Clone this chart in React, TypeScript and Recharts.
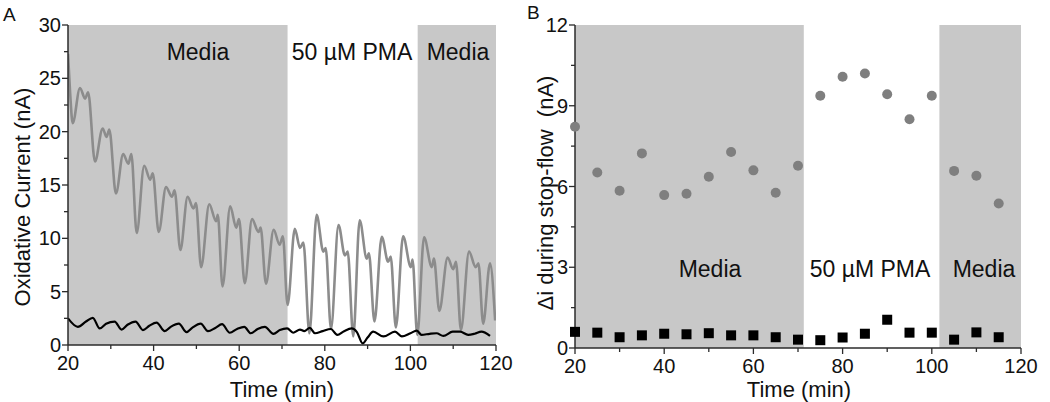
import React from "react"
import {
  ComposedChart,
  Line,
  Scatter,
  XAxis,
  YAxis,
  ReferenceArea,
} from "recharts"

// time windows with plain media (shaded), PMA in between
const mediaPeriods = [
  [20, 71.3],
  [101.7, 120],
]

// panel A: oxidative current trace (nA) vs time (min)
const traceGray = [
  [20, 27.3], [20.5, 23.6], [21.1, 20.8], [22.8, 24.1], [24.0, 23.1], [24.7, 23.7],
  [26.3, 17.2], [28.1, 20.3], [29.0, 19.5], [29.65, 20.2],
  [31.2, 14.2], [32.9, 17.9], [34.1, 17.0], [34.8, 17.9],
  [36.05, 10.5], [37.8, 16.8], [39.2, 15.5], [39.8, 16.1],
  [41.2, 10.6], [42.9, 14.8], [44.3, 13.9], [44.9, 14.5],
  [46.25, 8.9], [47.95, 13.9], [49.3, 12.8], [49.9, 13.3],
  [51.1, 7.3], [53.0, 13.2], [54.6, 11.6], [55.0, 12.2],
  [56.1, 5.5], [57.9, 13.0], [59.3, 11.0], [59.95, 11.8],
  [61.3, 5.8], [63.0, 11.8], [64.5, 10.6], [65.0, 11.0],
  [66.25, 5.75], [68.05, 10.8], [69.45, 9.4], [70.2, 10.2],
  [71.3, 3.75], [73.0, 10.9], [74.2, 9.1], [75.0, 9.6],
  [76.4, 1.1], [78.1, 12.2], [79.65, 8.75], [80.2, 9.1],
  [81.45, 1.5], [83.2, 11.25], [84.7, 8.4], [85.35, 8.75],
  [86.65, 0.8], [88.15, 11.7], [89.8, 8.1], [90.3, 8.6],
  [91.6, 2.2], [93.3, 10.15], [94.8, 7.8], [95.4, 8.3],
  [96.6, 1.65], [98.3, 10.2], [100.1, 7.3], [100.5, 8.0],
  [101.6, 0.95], [103.2, 10.1], [105.0, 7.3], [105.5, 8.1],
  [106.75, 3.2], [108.7, 8.2], [110.0, 7.1], [110.65, 7.8],
  [111.8, 1.4], [113.7, 8.75], [115.25, 7.3], [115.9, 7.65],
  [117.0, 2.0], [118.6, 7.65], [119.8, 2.3],
]

const traceBlack = [
  [20, 2.5], [22.3, 1.7], [24.2, 2.2], [25.8, 2.55], [27.4, 1.55], [28.9, 2.0],
  [30.9, 2.2], [32.5, 1.45], [33.9, 1.9], [35.8, 2.2], [37.5, 1.4], [39, 1.8],
  [40.7, 2.1], [42.6, 1.3], [44, 1.7], [45.9, 2.0], [47.7, 1.2], [49, 1.6],
  [51, 2.0], [52.7, 1.3], [54.4, 1.6], [56, 1.95], [57.8, 1.15], [59.5, 1.5],
  [61.2, 1.7], [62.7, 1.1], [64.3, 1.5], [66, 1.7], [68, 1.05], [69.5, 1.4],
  [71.2, 1.55], [72.6, 1.15], [74.2, 1.45], [75.2, 1.3], [76.5, 1.6], [77.7, 1.1],
  [79.5, 1.3], [81.4, 1.5], [82.9, 0.95], [84.5, 1.3], [86.3, 1.55], [87.5, 1.2],
  [88.85, 0.15], [90, 0.7], [91.3, 1.25], [93.7, 0.8], [96.4, 1.25], [98, 0.8],
  [100, 1.1], [101.5, 1.35], [102.6, 0.95], [104.5, 1.05], [106.1, 1.1], [107.7, 0.85],
  [109.9, 1.25], [111.6, 1.25], [113.5, 0.95], [115, 1.05], [116.6, 1.25], [118.6, 0.85],
]

// panel B: delta i during stop-flow (nA), one sample every 5 min
const stopTimes = [20, 25, 30, 35, 40, 45, 50, 55, 60, 65, 70, 75, 80, 85, 90, 95, 100, 105, 110, 115]
const deltaGray = [8.22, 6.52, 5.84, 7.23, 5.68, 5.73, 6.36, 7.28, 6.6, 5.77, 6.77, 9.37, 10.08, 10.2, 9.43, 8.5, 9.37, 6.58, 6.4, 5.37]
const deltaBlack = [0.6, 0.57, 0.4, 0.47, 0.53, 0.51, 0.55, 0.47, 0.47, 0.4, 0.31, 0.29, 0.39, 0.53, 1.05, 0.57, 0.57, 0.31, 0.58, 0.4]

const xTicks = [20, 30, 40, 50, 60, 70, 80, 90, 100, 110, 120]
const xMajor = [20, 40, 60, 80, 100, 120]
const yTicksA = [0, 2.5, 5, 7.5, 10, 12.5, 15, 17.5, 20, 22.5, 25, 27.5, 30]
const yMajorA = [0, 5, 10, 15, 20, 25, 30]
const yTicksB = [0, 1.5, 3, 4.5, 6, 7.5, 9, 10.5, 12]
const yMajorB = [0, 3, 6, 9, 12]

const FONT = "'Liberation Sans', Arial, sans-serif"
const AXIS = "#2b2b2b"
const SHADE = "#c8c8c8"

const toPts = (arr: number[][]) => arr.map(([t, v]) => ({ t, v }))

function XTick(props: any) {
  const { x, y, payload, majors } = props
  const major = majors.includes(payload.value)
  return (
    <g>
      <line x1={x} y1={y} x2={x} y2={y + (major ? 6 : 4)} stroke={AXIS} strokeWidth={1.3} />
      {major && (
        <text x={x} y={y + 25} textAnchor="middle" fontSize={20} fontFamily={FONT} fill="#111">
          {payload.value}
        </text>
      )}
    </g>
  )
}

function YTick(props: any) {
  const { x, y, payload, majors } = props
  const major = majors.includes(payload.value)
  return (
    <g>
      <line x1={x} y1={y} x2={x - (major ? 6 : 4)} y2={y} stroke={AXIS} strokeWidth={1.3} />
      {major && (
        <text x={x - 7} y={y} dy="0.35em" textAnchor="end" fontSize={20} fontFamily={FONT} fill="#111">
          {payload.value}
        </text>
      )}
    </g>
  )
}

function PanelA() {
  return (
    <ComposedChart width={520} height={402} margin={{ top: 25, right: 24, bottom: 7, left: 28 }}>
      {mediaPeriods.map(([a, b]) => (
        <ReferenceArea key={a} x1={a} x2={b} y1={0} y2={30} fill={SHADE} fillOpacity={1} stroke="none" />
      ))}
      <XAxis
        dataKey="t"
        type="number"
        domain={[20, 120]}
        ticks={xTicks}
        interval={0}
        height={50}
        tickSize={0}
        tickMargin={0}
        tickLine={false}
        axisLine={{ stroke: AXIS, strokeWidth: 1.5 }}
        tick={(p: any) => <XTick {...p} majors={xMajor} />}
        allowDataOverflow
      />
      <YAxis
        type="number"
        domain={[0, 30]}
        ticks={yTicksA}
        interval={0}
        width={40}
        tickSize={0}
        tickMargin={0}
        tickLine={false}
        axisLine={{ stroke: AXIS, strokeWidth: 1.5 }}
        tick={(p: any) => <YTick {...p} majors={yMajorA} />}
        allowDataOverflow
      />
      <Line
        data={toPts(traceGray)}
        dataKey="v"
        type="monotone"
        stroke="#8c8c8c"
        strokeWidth={2.6}
        dot={false}
        activeDot={false}
        isAnimationActive={false}
      />
      <Line
        data={toPts(traceBlack)}
        dataKey="v"
        type="monotone"
        stroke="#000"
        strokeWidth={2.2}
        dot={false}
        activeDot={false}
        isAnimationActive={false}
      />
    </ComposedChart>
  )
}

function PanelB() {
  const grayPts = stopTimes.map((t, i) => ({ t, v: deltaGray[i] }))
  const blackPts = stopTimes.map((t, i) => ({ t, v: deltaBlack[i] }))
  return (
    <ComposedChart width={530} height={402} margin={{ top: 25, right: 29, bottom: 4, left: 15 }}>
      {mediaPeriods.map(([a, b]) => (
        <ReferenceArea key={a} x1={a} x2={b} y1={0} y2={12} fill={SHADE} fillOpacity={1} stroke="none" />
      ))}
      <XAxis
        dataKey="t"
        type="number"
        domain={[20, 120]}
        ticks={xTicks}
        interval={0}
        height={50}
        tickSize={0}
        tickMargin={0}
        tickLine={false}
        axisLine={{ stroke: AXIS, strokeWidth: 1.5 }}
        tick={(p: any) => <XTick {...p} majors={xMajor} />}
      />
      <YAxis
        dataKey="v"
        type="number"
        domain={[0, 12]}
        ticks={yTicksB}
        interval={0}
        width={40}
        tickSize={0}
        tickMargin={0}
        tickLine={false}
        axisLine={{ stroke: AXIS, strokeWidth: 1.5 }}
        tick={(p: any) => <YTick {...p} majors={yMajorB} />}
      />
      <Scatter
        data={grayPts}
        dataKey="v"
        isAnimationActive={false}
        shape={(p: any) => <circle cx={p.cx} cy={p.cy} r={5} fill="#7f7f7f" />}
      />
      <Scatter
        data={blackPts}
        dataKey="v"
        isAnimationActive={false}
        shape={(p: any) => <rect x={p.cx - 5} y={p.cy - 5} width={10} height={10} fill="#000" />}
      />
    </ComposedChart>
  )
}

export default function App() {
  const txt = { fontFamily: FONT, fill: "#111" }
  return (
    <div style={{ position: "absolute", left: 0, top: 0, width: 1050, height: 402, background: "#fff" }}>
      <div style={{ position: "absolute", left: 0, top: 0 }}>
        <PanelA />
      </div>
      <div style={{ position: "absolute", left: 520, top: 0 }}>
        <PanelB />
      </div>
      <svg width={1050} height={402} style={{ position: "absolute", left: 0, top: 0, pointerEvents: "none" }}>
        <text x={3} y={21} fontSize={19} {...txt}>A</text>
        <text x={527} y={19} fontSize={19} {...txt}>B</text>

        <text x={198} y={60} fontSize={23} textAnchor="middle" {...txt}>Media</text>
        <text x={352} y={60} fontSize={23} textAnchor="middle" {...txt}>50 µM PMA</text>
        <text x={458} y={60} fontSize={23} textAnchor="middle" {...txt}>Media</text>

        <text x={710} y={277} fontSize={23} textAnchor="middle" {...txt}>Media</text>
        <text x={870} y={277} fontSize={23} textAnchor="middle" {...txt}>50 µM PMA</text>
        <text x={984} y={277} fontSize={23} textAnchor="middle" {...txt}>Media</text>

        <text x={282} y={397} fontSize={22} textAnchor="middle" {...txt}>Time (min)</text>
        <text x={799} y={397} fontSize={22} textAnchor="middle" {...txt}>Time (min)</text>

        <text x={22} y={197} fontSize={22} textAnchor="middle" dominantBaseline="central"
          transform="rotate(-90 22 197)" {...txt}>Oxidative Current (nA)</text>
        <text x={545} y={193} fontSize={22} textAnchor="middle" dominantBaseline="central"
          transform="rotate(-90 545 193)" xmlSpace="preserve" {...txt}>Δi during stop-flow  (nA)</text>
      </svg>
    </div>
  )
}
